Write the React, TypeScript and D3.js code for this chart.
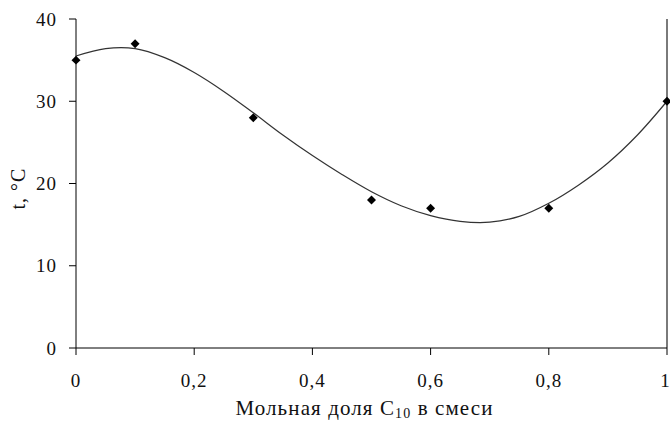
import * as d3 from "d3";

// measured points
const molFraction = [0, 0.1, 0.3, 0.5, 0.6, 0.8, 1];
const temperature = [35, 37, 28, 18, 17, 17, 30];

// trendline
const trendX = [0, 0.05, 0.1, 0.15, 0.2, 0.25, 0.3, 0.35, 0.4, 0.45, 0.5, 0.55, 0.6, 0.65, 0.7, 0.75, 0.8, 0.85, 0.9, 0.95, 1];
const trendY = [35.5, 36.4, 36.4, 35.3, 33.5, 31.2, 28.6, 25.9, 23.4, 21.1, 19.0, 17.3, 16.1, 15.4, 15.3, 16.0, 17.6, 19.8, 22.5, 25.9, 30.0];

const xTicks = [0, 0.2, 0.4, 0.6, 0.8, 1];
const yTicks = [0, 10, 20, 30, 40];

export default function App() {
  const width = 670;
  const height = 422;
  const left = 76;
  const right = 667;
  const top = 19;
  const bottom = 348;

  const x = d3.scaleLinear().domain([0, 1]).range([left, right]);
  const y = d3.scaleLinear().domain([0, 40]).range([bottom, top]);

  const line = d3
    .line<number>()
    .x((d, i) => x(trendX[i]))
    .y((d) => y(d))
    .curve(d3.curveCatmullRom.alpha(0.5));

  const marker = d3.symbol().type(d3.symbolSquare).size(40)();
  const fmt = (v: number) => String(v).replace(".", ",");
  const font = "'Liberation Serif', 'Times New Roman', serif";

  return (
    <svg width={width} height={height} style={{ position: "absolute", left: 0, top: 0, background: "#fff" }} fontFamily={font}>
      {/* right border */}
      <line x1={x(1)} x2={x(1)} y1={y(40)} y2={y(0)} stroke="#7a7a7a" strokeWidth={2} />

      {/* y axis */}
      <line x1={left} x2={left} y1={y(40)} y2={y(0)} stroke="#000" />
      {yTicks.map((t) => (
        <g key={"y" + t}>
          <line x1={left - 7} x2={left} y1={y(t)} y2={y(t)} stroke="#000" />
          <text x={57} y={y(t)} dy="0.35em" textAnchor="end" fontSize={19} letterSpacing={1} fill="#111">
            {t}
          </text>
        </g>
      ))}

      {/* x axis */}
      <line x1={left} x2={right} y1={bottom} y2={bottom} stroke="#000" />
      {xTicks.map((t) => (
        <g key={"x" + t}>
          <line x1={x(t)} x2={x(t)} y1={bottom} y2={bottom + 7} stroke="#000" />
          <text
            x={t === 1 ? x(t) - 2 : x(t)}
            y={387}
            textAnchor="middle"
            fontSize={19}
            letterSpacing={t === 1 ? 0 : 1}
            fill="#111"
          >
            {fmt(t)}
          </text>
        </g>
      ))}

      <path d={line(trendY) ?? ""} fill="none" stroke="#333" strokeWidth={1.2} />

      {molFraction.map((m, i) => (
        <path
          key={"p" + i}
          d={marker ?? ""}
          transform={`translate(${x(m)},${y(temperature[i])}) rotate(45)`}
          fill="#000"
        />
      ))}

      <text x={(left + right) / 2 - 7} y={415} textAnchor="middle" fontSize={21} letterSpacing={1.1} fill="#111">
        Мольная доля C<tspan fontSize={14} dy={3}>10</tspan>
        <tspan dy={-3}> в смеси</tspan>
      </text>

      <text
        transform={`translate(25,${(top + bottom) / 2 + 5}) rotate(-90)`}
        textAnchor="middle"
        fontSize={20}
        letterSpacing={1}
        fill="#111"
      >
        t, °C
      </text>
    </svg>
  );
}
